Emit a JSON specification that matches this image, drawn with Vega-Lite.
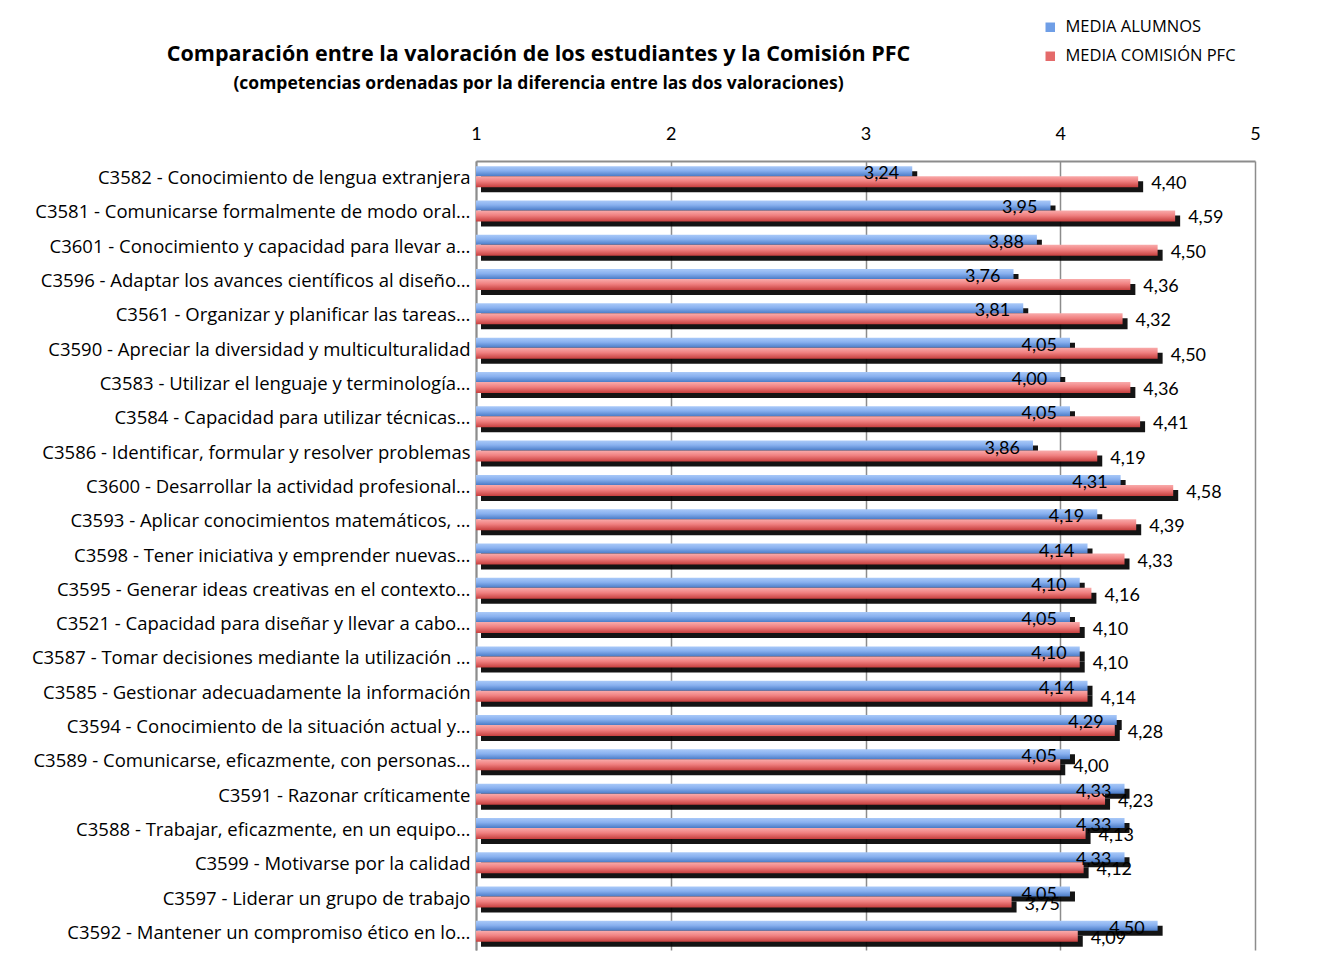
{
  "$schema": "https://vega.github.io/schema/vega-lite/v6.json",
  "autosize": "none",
  "width": 779,
  "height": 789,
  "padding": {"left": 476, "top": 161, "right": 79, "bottom": 13},
  "background": "white",
  "title": {
    "text": "Comparación entre la valoración de los estudiantes y la Comisión PFC",
    "subtitle": "(competencias ordenadas por la diferencia entre las dos valoraciones)",
    "anchor": "middle",
    "frame": "group",
    "dx": -327,
    "offset": -73,
    "font": "Open Sans",
    "fontSize": 21.5,
    "fontWeight": "bold",
    "color": "#000000",
    "subtitleFont": "Open Sans",
    "subtitleFontSize": 17.5,
    "subtitleFontWeight": "bold",
    "subtitleColor": "#000000",
    "subtitlePadding": 9
  },
  "config": {
    "locale": {"number": {"decimal": ",", "thousands": ".", "grouping": [3], "currency": ["", " €"]}},
    "view": {"stroke": null},
    "font": "Lato"
  },
  "data": {
    "values": [
      {"cat": "C3582 - Conocimiento de lengua extranjera", "serie": "MEDIA ALUMNOS", "valor": 3.24},
      {"cat": "C3582 - Conocimiento de lengua extranjera", "serie": "MEDIA COMISIÓN PFC", "valor": 4.40},
      {"cat": "C3581 - Comunicarse formalmente de modo oral…", "serie": "MEDIA ALUMNOS", "valor": 3.95},
      {"cat": "C3581 - Comunicarse formalmente de modo oral…", "serie": "MEDIA COMISIÓN PFC", "valor": 4.59},
      {"cat": "C3601 - Conocimiento y capacidad para llevar a…", "serie": "MEDIA ALUMNOS", "valor": 3.88},
      {"cat": "C3601 - Conocimiento y capacidad para llevar a…", "serie": "MEDIA COMISIÓN PFC", "valor": 4.50},
      {"cat": "C3596 - Adaptar los avances científicos al diseño…", "serie": "MEDIA ALUMNOS", "valor": 3.76},
      {"cat": "C3596 - Adaptar los avances científicos al diseño…", "serie": "MEDIA COMISIÓN PFC", "valor": 4.36},
      {"cat": "C3561 - Organizar y planificar las tareas…", "serie": "MEDIA ALUMNOS", "valor": 3.81},
      {"cat": "C3561 - Organizar y planificar las tareas…", "serie": "MEDIA COMISIÓN PFC", "valor": 4.32},
      {"cat": "C3590 - Apreciar la diversidad y multiculturalidad", "serie": "MEDIA ALUMNOS", "valor": 4.05},
      {"cat": "C3590 - Apreciar la diversidad y multiculturalidad", "serie": "MEDIA COMISIÓN PFC", "valor": 4.50},
      {"cat": "C3583 - Utilizar el lenguaje y terminología…", "serie": "MEDIA ALUMNOS", "valor": 4.00},
      {"cat": "C3583 - Utilizar el lenguaje y terminología…", "serie": "MEDIA COMISIÓN PFC", "valor": 4.36},
      {"cat": "C3584 - Capacidad para utilizar técnicas…", "serie": "MEDIA ALUMNOS", "valor": 4.05},
      {"cat": "C3584 - Capacidad para utilizar técnicas…", "serie": "MEDIA COMISIÓN PFC", "valor": 4.41},
      {"cat": "C3586 - Identificar, formular y resolver problemas", "serie": "MEDIA ALUMNOS", "valor": 3.86},
      {"cat": "C3586 - Identificar, formular y resolver problemas", "serie": "MEDIA COMISIÓN PFC", "valor": 4.19},
      {"cat": "C3600 - Desarrollar la actividad profesional…", "serie": "MEDIA ALUMNOS", "valor": 4.31},
      {"cat": "C3600 - Desarrollar la actividad profesional…", "serie": "MEDIA COMISIÓN PFC", "valor": 4.58},
      {"cat": "C3593 - Aplicar conocimientos matemáticos, …", "serie": "MEDIA ALUMNOS", "valor": 4.19},
      {"cat": "C3593 - Aplicar conocimientos matemáticos, …", "serie": "MEDIA COMISIÓN PFC", "valor": 4.39},
      {"cat": "C3598 - Tener iniciativa y emprender nuevas…", "serie": "MEDIA ALUMNOS", "valor": 4.14},
      {"cat": "C3598 - Tener iniciativa y emprender nuevas…", "serie": "MEDIA COMISIÓN PFC", "valor": 4.33},
      {"cat": "C3595 - Generar ideas creativas en el contexto…", "serie": "MEDIA ALUMNOS", "valor": 4.10},
      {"cat": "C3595 - Generar ideas creativas en el contexto…", "serie": "MEDIA COMISIÓN PFC", "valor": 4.16},
      {"cat": "C3521 - Capacidad para diseñar y llevar a cabo…", "serie": "MEDIA ALUMNOS", "valor": 4.05},
      {"cat": "C3521 - Capacidad para diseñar y llevar a cabo…", "serie": "MEDIA COMISIÓN PFC", "valor": 4.10},
      {"cat": "C3587 - Tomar decisiones mediante la utilización …", "serie": "MEDIA ALUMNOS", "valor": 4.10},
      {"cat": "C3587 - Tomar decisiones mediante la utilización …", "serie": "MEDIA COMISIÓN PFC", "valor": 4.10},
      {"cat": "C3585 - Gestionar adecuadamente la información", "serie": "MEDIA ALUMNOS", "valor": 4.14},
      {"cat": "C3585 - Gestionar adecuadamente la información", "serie": "MEDIA COMISIÓN PFC", "valor": 4.14},
      {"cat": "C3594 - Conocimiento de la situación actual y…", "serie": "MEDIA ALUMNOS", "valor": 4.29},
      {"cat": "C3594 - Conocimiento de la situación actual y…", "serie": "MEDIA COMISIÓN PFC", "valor": 4.28},
      {"cat": "C3589 - Comunicarse, eficazmente, con personas…", "serie": "MEDIA ALUMNOS", "valor": 4.05},
      {"cat": "C3589 - Comunicarse, eficazmente, con personas…", "serie": "MEDIA COMISIÓN PFC", "valor": 4.00},
      {"cat": "C3591 - Razonar críticamente", "serie": "MEDIA ALUMNOS", "valor": 4.33},
      {"cat": "C3591 - Razonar críticamente", "serie": "MEDIA COMISIÓN PFC", "valor": 4.23},
      {"cat": "C3588 - Trabajar, eficazmente, en un equipo…", "serie": "MEDIA ALUMNOS", "valor": 4.33},
      {"cat": "C3588 - Trabajar, eficazmente, en un equipo…", "serie": "MEDIA COMISIÓN PFC", "valor": 4.13},
      {"cat": "C3599 - Motivarse por la calidad", "serie": "MEDIA ALUMNOS", "valor": 4.33},
      {"cat": "C3599 - Motivarse por la calidad", "serie": "MEDIA COMISIÓN PFC", "valor": 4.12},
      {"cat": "C3597 - Liderar un grupo de trabajo", "serie": "MEDIA ALUMNOS", "valor": 4.05},
      {"cat": "C3597 - Liderar un grupo de trabajo", "serie": "MEDIA COMISIÓN PFC", "valor": 3.75},
      {"cat": "C3592 - Mantener un compromiso ético en lo…", "serie": "MEDIA ALUMNOS", "valor": 4.50},
      {"cat": "C3592 - Mantener un compromiso ético en lo…", "serie": "MEDIA COMISIÓN PFC", "valor": 4.09}
    ]
  },
  "encoding": {
    "y": {
      "field": "cat",
      "type": "nominal",
      "sort": null,
      "title": null,
      "scale": {"paddingInner": 0.3, "paddingOuter": 0.15},
      "axis": {
        "ticks": false,
        "domain": true,
        "domainColor": "#8c8c8c",
        "domainWidth": 2,
        "labelPadding": 6,
        "labelFont": "Open Sans",
        "labelFontSize": 18.5,
        "labelColor": "#000000",
        "labelLimit": 470
      }
    }
  },
  "layer": [
    {
      "mark": {"type": "bar", "strokeWidth": 0},
      "encoding": {
        "x": {
          "datum": 1,
          "type": "quantitative",
          "scale": {"domain": [1, 5], "zero": false, "nice": false},
          "title": null,
          "axis": {
            "orient": "top",
            "title": null,
            "values": [1, 2, 3, 4, 5],
            "format": "d",
            "ticks": false,
            "domain": true,
            "domainColor": "#8c8c8c",
            "domainWidth": 2,
            "grid": true,
            "gridColor": "#8c8c8c",
            "gridWidth": 1.5,
            "gridOpacity": 1,
            "labelPadding": 18,
            "labelFont": "Lato",
            "labelFontSize": 18,
            "labelColor": "#000000",
            "labelFlush": false
          }
        },
        "x2": {"datum": 1},
        "color": {
          "field": "serie",
          "type": "nominal",
          "scale": {"domain": ["MEDIA ALUMNOS", "MEDIA COMISIÓN PFC"], "range": ["#6f9ee6", "#e46a6a"]},
          "legend": {
            "title": null,
            "orient": "none",
            "legendX": 566,
            "legendY": -142,
            "direction": "vertical",
            "symbolType": "square",
            "symbolSize": 90,
            "symbolStrokeWidth": 0,
            "labelFont": "Open Sans",
            "labelFontSize": 16.5,
            "labelColor": "#000000",
            "labelOffset": 7,
            "rowPadding": 12,
            "labelLimit": 300
          }
        }
      }
    },
    {
      "transform": [{"filter": {"field": "serie", "equal": "MEDIA ALUMNOS"}}],
      "mark": {"type": "bar", "color": "#000000", "opacity": 0.92, "height": 10, "yOffset": -2, "xOffset": 5, "x2Offset": 5},
      "encoding": {"x": {"field": "valor", "type": "quantitative", "title": null}, "x2": {"datum": 1}}
    },
    {
      "transform": [{"filter": {"field": "serie", "equal": "MEDIA ALUMNOS"}}],
      "mark": {
        "type": "bar",
        "height": 10,
        "yOffset": -7,
        "fill": {"gradient": "linear", "x1": 0, "y1": 0, "x2": 0, "y2": 1, "stops": [{"offset": 0, "color": "#a9c9f8"}, {"offset": 0.45, "color": "#88b0ef"}, {"offset": 1, "color": "#4a7bc6"}]}
      },
      "encoding": {"x": {"field": "valor", "type": "quantitative", "title": null}, "x2": {"datum": 1}}
    },
    {
      "transform": [{"filter": {"field": "serie", "equal": "MEDIA COMISIÓN PFC"}}],
      "mark": {"type": "bar", "color": "#000000", "opacity": 0.92, "height": 11, "yOffset": 8.5, "xOffset": 5, "x2Offset": 5},
      "encoding": {"x": {"field": "valor", "type": "quantitative", "title": null}, "x2": {"datum": 1}}
    },
    {
      "transform": [{"filter": {"field": "serie", "equal": "MEDIA COMISIÓN PFC"}}],
      "mark": {
        "type": "bar",
        "height": 11,
        "yOffset": 3.5,
        "fill": {"gradient": "linear", "x1": 0, "y1": 0, "x2": 0, "y2": 1, "stops": [{"offset": 0, "color": "#f9abab"}, {"offset": 0.45, "color": "#f08080"}, {"offset": 1, "color": "#c63f3e"}]}
      },
      "encoding": {"x": {"field": "valor", "type": "quantitative", "title": null}, "x2": {"datum": 1}}
    },
    {
      "transform": [{"filter": {"field": "serie", "equal": "MEDIA ALUMNOS"}}],
      "mark": {"type": "text", "align": "right", "baseline": "middle", "dx": -13, "dy": -4, "font": "Lato", "fontSize": 18, "color": "#000000"},
      "encoding": {
        "x": {"field": "valor", "type": "quantitative", "title": null},
        "text": {"field": "valor", "type": "quantitative", "format": ".2f"}
      }
    },
    {
      "transform": [{"filter": {"field": "serie", "equal": "MEDIA COMISIÓN PFC"}}],
      "mark": {"type": "text", "align": "left", "baseline": "middle", "dx": 13, "dy": 6, "font": "Lato", "fontSize": 18, "color": "#000000"},
      "encoding": {
        "x": {"field": "valor", "type": "quantitative", "title": null},
        "text": {"field": "valor", "type": "quantitative", "format": ".2f"}
      }
    }
  ]
}
